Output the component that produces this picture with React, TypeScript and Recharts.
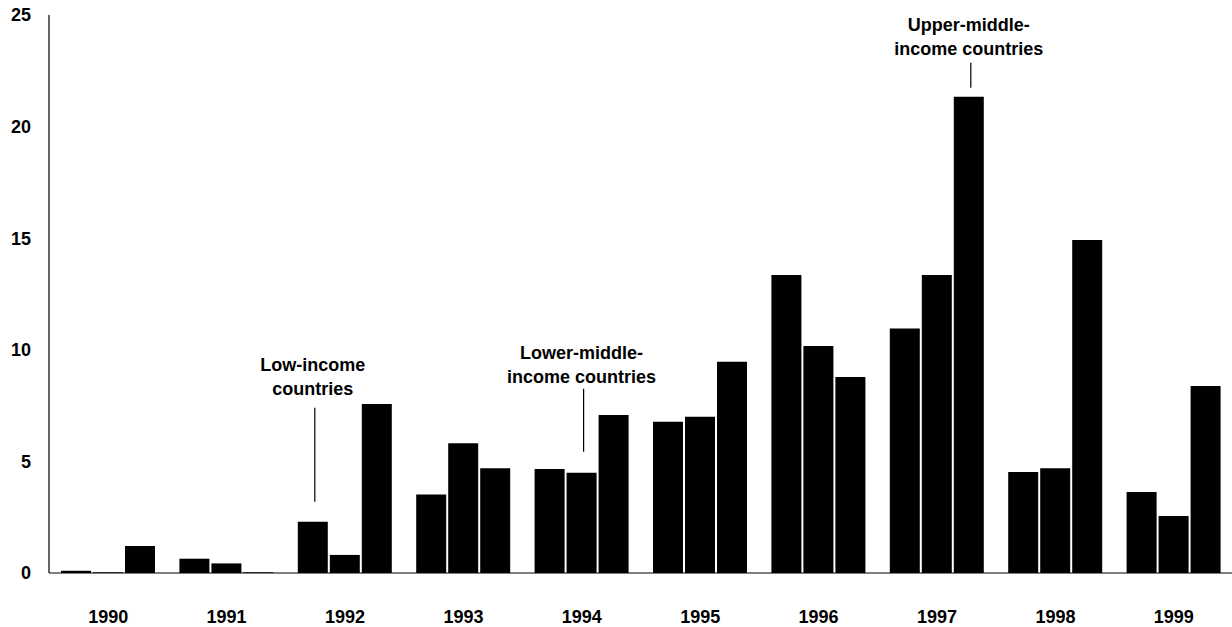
import { BarChart, Bar, XAxis, YAxis } from 'recharts';

const years = ['1990', '1991', '1992', '1993', '1994', '1995', '1996', '1997', '1998', '1999'];
const lowIncome = [0.1, 0.64, 2.3, 3.52, 4.66, 6.78, 13.35, 10.95, 4.53, 3.63];
const lowerMiddle = [0.03, 0.43, 0.81, 5.81, 4.49, 7.0, 10.17, 13.35, 4.69, 2.55];
const upperMiddle = [1.21, 0.03, 7.57, 4.69, 7.08, 9.47, 8.78, 21.34, 14.92, 8.38];
const yTicks = [0, 5, 10, 15, 20, 25];

const data = years.map((year, i) => ({
    year,
    low: lowIncome[i],
    lower: lowerMiddle[i],
    upper: upperMiddle[i],
}));

const FONT = "'Liberation Sans', Arial, sans-serif";

// callout text + leader line, drawn above one bar
const notes: Record<string, { index: number; lines: string[]; gap: number; len: number; textGap: number }> = {
    low: { index: 2, lines: ['Low-income', 'countries'], gap: 20, len: 94, textGap: 13 },
    lower: { index: 4, lines: ['Lower-middle-', 'income countries'], gap: 21, len: 63, textGap: 6 },
    upper: { index: 7, lines: ['Upper-middle-', 'income countries'], gap: 9, len: 25, textGap: 8 },
};

const makeNote = (key: string) => (props: any) => {
    const note = notes[key];
    if (props.index !== note.index) return null;
    const cx = Number(props.x) + Number(props.width) / 2;
    const bottom = Number(props.y) - note.gap;
    const top = bottom - note.len;
    const base2 = top - note.textGap;
    const base1 = base2 - 24;
    return (
        <g key={key}>
            <line x1={cx + 2} x2={cx + 2} y1={top} y2={bottom} stroke="#000" strokeWidth={1.2} />
            <text x={cx} y={base1} textAnchor="middle" fontFamily={FONT} fontWeight="bold" fontSize={18} fill="#000">
                {note.lines[0]}
            </text>
            <text x={cx} y={base2} textAnchor="middle" fontFamily={FONT} fontWeight="bold" fontSize={18} fill="#000">
                {note.lines[1]}
            </text>
        </g>
    );
};

export default function App() {
    return (
        <div style={{ position: 'absolute', left: 0, top: 0, width: 1232, height: 627, background: '#fff' }}>
            <BarChart
                width={1233}
                height={627}
                data={data}
                margin={{ top: 15, right: 0, bottom: 0, left: 0 }}
                barCategoryGap={12}
                barGap={2}
            >
                <XAxis
                    dataKey="year"
                    height={54}
                    axisLine={{ stroke: '#000', strokeWidth: 1 }}
                    tickLine={false}
                    tickSize={0}
                    tickMargin={37}
                    tick={{ fill: '#000', fontFamily: FONT, fontWeight: 'bold', fontSize: 18 }}
                />
                <YAxis
                    width={49}
                    domain={[0, 25]}
                    ticks={yTicks}
                    axisLine={{ stroke: '#000', strokeWidth: 1.2 }}
                    tickLine={false}
                    tickSize={0}
                    tickMargin={18}
                    tick={{ fill: '#000', fontFamily: FONT, fontWeight: 'bold', fontSize: 18 }}
                />
                <Bar dataKey="low" fill="#000" isAnimationActive={false} label={makeNote('low')} />
                <Bar dataKey="lower" fill="#000" isAnimationActive={false} label={makeNote('lower')} />
                <Bar dataKey="upper" fill="#000" isAnimationActive={false} label={makeNote('upper')} />
            </BarChart>
        </div>
    );
}
